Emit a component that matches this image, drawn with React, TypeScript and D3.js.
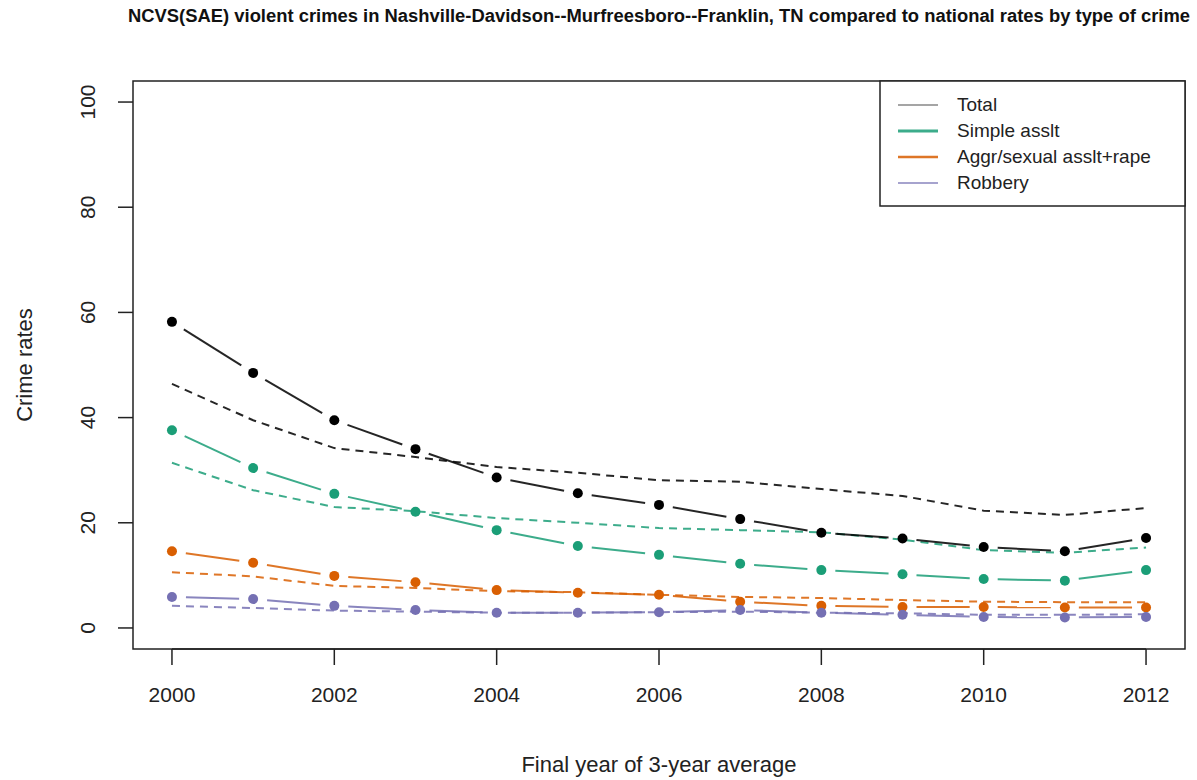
import React from "react";
import * as d3 from "d3";

const years = [2000, 2001, 2002, 2003, 2004, 2005, 2006, 2007, 2008, 2009, 2010, 2011, 2012];
const xTicks = [2000, 2002, 2004, 2006, 2008, 2010, 2012];
const yTicks = [0, 20, 40, 60, 80, 100];

const totalLocal = [58.2, 48.5, 39.5, 34.0, 28.6, 25.6, 23.4, 20.7, 18.1, 17.0, 15.4, 14.6, 17.1];
const totalNational = [46.4, 39.5, 34.2, 32.5, 30.6, 29.5, 28.1, 27.8, 26.4, 25.1, 22.3, 21.5, 22.8];
const simpleLocal = [37.6, 30.4, 25.5, 22.1, 18.6, 15.6, 13.9, 12.2, 11.0, 10.2, 9.3, 9.0, 11.0];
const simpleNational = [31.4, 26.2, 23.0, 22.2, 20.9, 20.0, 19.0, 18.6, 18.2, 16.8, 14.8, 14.3, 15.3];
const aggrLocal = [14.6, 12.4, 9.9, 8.7, 7.2, 6.7, 6.3, 5.0, 4.2, 4.0, 4.0, 3.9, 3.9];
const aggrNational = [10.6, 9.8, 8.0, 7.6, 7.0, 6.8, 6.3, 5.9, 5.7, 5.3, 5.0, 4.9, 4.9];
const robberyLocal = [5.9, 5.5, 4.2, 3.4, 2.9, 2.9, 3.0, 3.4, 2.9, 2.5, 2.1, 2.0, 2.1];
const robberyNational = [4.2, 3.8, 3.3, 3.1, 2.9, 2.9, 3.0, 3.1, 2.9, 2.8, 2.5, 2.5, 2.6];

const seriesNames = ["Total", "Simple asslt", "Aggr/sexual asslt+rape", "Robbery"];
const seriesColors = ["#000000", "#1B9E77", "#D95F02", "#7570B3"];
const legendWidths = [1, 3, 2.5, 1.5];

const titleText =
  "NCVS(SAE) violent crimes in Nashville-Davidson--Murfreesboro--Franklin, TN compared to national rates by type of crime";

export default function App() {
  const W = 1197;
  const H = 780;
  const left = 133, right = 1185, top = 81, bottom = 649;
  const x = d3.scaleLinear().domain([1999.52, 2012.48]).range([left, right]);
  const y = d3.scaleLinear().domain([-4, 104]).range([bottom, top]);

  const locals = [totalLocal, simpleLocal, aggrLocal, robberyLocal];
  const nationals = [totalNational, simpleNational, aggrNational, robberyNational];

  const line = d3
    .line<[number, number]>()
    .x((d) => x(d[0]))
    .y((d) => y(d[1]));

  const gap = 14;
  const segs = (vals: number[]) => {
    const out: { x1: number; y1: number; x2: number; y2: number }[] = [];
    for (let i = 0; i < vals.length - 1; i++) {
      const ax = x(years[i]), ay = y(vals[i]);
      const bx = x(years[i + 1]), by = y(vals[i + 1]);
      const dx = bx - ax, dy = by - ay;
      const len = Math.sqrt(dx * dx + dy * dy);
      if (len <= 2 * gap) continue;
      const ux = dx / len, uy = dy / len;
      out.push({ x1: ax + ux * gap, y1: ay + uy * gap, x2: bx - ux * gap, y2: by - uy * gap });
    }
    return out;
  };

  const font = "Liberation Sans, Arial, Helvetica, sans-serif";

  return (
    <svg width={W} height={H} style={{ display: "block", position: "absolute", left: 0, top: 0 }}>
      <rect x={0} y={0} width={W} height={H} fill="#ffffff" />
      <text
        x={128}
        y={22}
        fontFamily={font}
        fontWeight="bold"
        fontSize={18}
        textLength={1062}
        lengthAdjust="spacingAndGlyphs"
        fill="#111"
      >
        {titleText}
      </text>

      {/* national dashed lines */}
      {nationals.map((vals, k) => (
        <path
          key={"n" + k}
          d={line(years.map((yr, i) => [yr, vals[i]] as [number, number])) || ""}
          fill="none"
          stroke={seriesColors[k]}
          strokeWidth={2}
          strokeDasharray="8,6"
          opacity={0.85}
        />
      ))}

      {/* local lines, type b */}
      {locals.map((vals, k) => (
        <g key={"l" + k}>
          {segs(vals).map((s, i) => (
            <line
              key={i}
              x1={s.x1}
              y1={s.y1}
              x2={s.x2}
              y2={s.y2}
              stroke={seriesColors[k]}
              strokeWidth={2}
              opacity={0.85}
            />
          ))}
          {vals.map((v, i) => (
            <circle key={"p" + i} cx={x(years[i])} cy={y(v)} r={5} fill={seriesColors[k]} />
          ))}
        </g>
      ))}

      {/* plot box */}
      <rect x={left} y={top} width={right - left} height={bottom - top} fill="none" stroke="#222" strokeWidth={1.5} />

      {/* x axis */}
      <line x1={x(2000)} x2={x(2012)} y1={bottom} y2={bottom} stroke="#222" strokeWidth={1.5} />
      {xTicks.map((t) => (
        <g key={"xt" + t}>
          <line x1={x(t)} x2={x(t)} y1={bottom} y2={bottom + 16} stroke="#222" strokeWidth={1.5} />
          <text x={x(t)} y={702} textAnchor="middle" fontFamily={font} fontSize={21} fill="#222">
            {t}
          </text>
        </g>
      ))}

      {/* y axis */}
      {yTicks.map((t) => (
        <g key={"yt" + t}>
          <line x1={left - 15} x2={left} y1={y(t)} y2={y(t)} stroke="#222" strokeWidth={1.5} />
          <text
            transform={`translate(95,${y(t)}) rotate(-90)`}
            textAnchor="middle"
            fontFamily={font}
            fontSize={21}
            fill="#222"
          >
            {t}
          </text>
        </g>
      ))}

      <text
        transform={`translate(32,${(top + bottom) / 2}) rotate(-90)`}
        textAnchor="middle"
        fontFamily={font}
        fontSize={22}
        fill="#222"
      >
        Crime rates
      </text>
      <text x={(left + right) / 2} y={772} textAnchor="middle" fontFamily={font} fontSize={22} fill="#222">
        Final year of 3-year average
      </text>

      {/* legend */}
      <rect x={880} y={top} width={right - 880} height={125} fill="#fff" stroke="#222" strokeWidth={1.5} />
      {seriesNames.map((n, i) => (
        <g key={"lg" + i}>
          <line
            x1={898}
            x2={938}
            y1={105 + i * 26}
            y2={105 + i * 26}
            stroke={seriesColors[i]}
            strokeWidth={legendWidths[i]}
            opacity={i === 0 ? 0.7 : 0.85}
          />
          <text x={957} y={111 + i * 26} fontFamily={font} fontSize={19} fill="#222">
            {n}
          </text>
        </g>
      ))}
    </svg>
  );
}
